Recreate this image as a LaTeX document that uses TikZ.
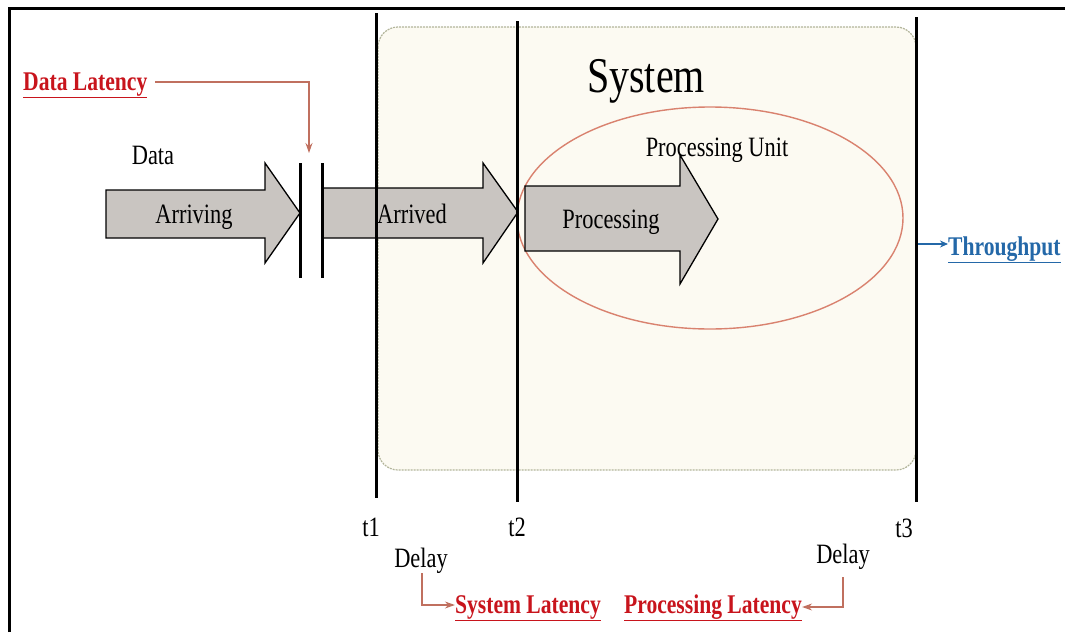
\documentclass[tikz,border=0pt]{standalone}
\usepackage{fontspec}
\setmainfont{Liberation Serif}[FakeStretch=0.8]
\usetikzlibrary{arrows.meta}
\definecolor{boxfill}{HTML}{FCFAF2}
\definecolor{boxline}{HTML}{B2B49A}
\definecolor{arrowfill}{HTML}{C9C5C1}
\definecolor{ellline}{HTML}{D9826F}
\definecolor{latred}{HTML}{C8141C}
\definecolor{conred}{HTML}{C0705F}
\definecolor{tpblue}{HTML}{2468A8}
\tikzset{
  txt/.style={inner sep=0pt, anchor=base, font=\fontsize{28}{31}\selectfont},
  lat/.style={inner sep=0pt, anchor=base, text=latred, font=\fontsize{27}{30}\selectfont\bfseries},
  timeline/.style={line width=3pt, black},
  bigarrow/.style={fill=arrowfill, draw=black, line width=1.3pt, line join=miter},
  con/.style={draw=conred, line width=1.1pt, -{Stealth[length=10pt,width=7pt]}},
}
\begin{document}
\begin{tikzpicture}[x=1pt,y=-1pt]
\useasboundingbox (0,0) rectangle (1065,632);
% frame
\draw[line width=3pt] (9,632) -- (9,8) -- (1065,8);
% system box
\draw[fill=boxfill, draw=boxline, line width=1.2pt, dash pattern=on 2pt off 1pt, rounded corners=20pt] (378,27) rectangle (916,470);
\node[txt, font=\fontsize{50}{56}\selectfont] (sys) at (646,92) {System};
% processing unit ellipse
\draw[ellline, line width=1.4pt] (710,218) ellipse [x radius=193, y radius=111];
\node[txt] (pu) at (717,156) {Processing Unit};
% arrows
\draw[bigarrow] (106,190) -- (265,190) -- (265,163) -- (300,213) -- (265,263) -- (265,238) -- (106,238) -- cycle;
\draw[bigarrow] (322,188) -- (483,188) -- (483,163) -- (518,212) -- (483,263) -- (483,238) -- (322,238) -- cycle;
\draw[bigarrow] (525,186) -- (680,186) -- (680,155) -- (718,219) -- (680,284) -- (680,251) -- (525,251) -- cycle;
\node[txt] (data) at (153,164) {Data};
\node[txt] (arriving) at (194,223) {Arriving};
\node[txt] (arrived) at (412,223) {Arrived};
\node[txt] (processing) at (611,228) {Processing};
% gap lines
\draw[timeline] (300,163) -- (300,278);
\draw[timeline] (322,163) -- (322,278);
% time lines
\draw[timeline] (376,13) -- (376,498);
\draw[timeline] (517,21) -- (517,502);
\draw[timeline] (916,17) -- (916,502);
\node[txt] (t1) at (371,536) {t1};
\node[txt] (t2) at (517,536) {t2};
\node[txt] (t3) at (904,537) {t3};
% data latency
\node[lat, anchor=base west] (dl) at (23,90) {\underline{Data Latency}};
\coordinate (gap) at (309,153);
\draw[con] (155,82) -| (gap);
% throughput
\node[lat, anchor=base west, text=tpblue] (tp) at (948,255) {\underline{Throughput}};
\draw[draw=tpblue, line width=1.1pt, -{Stealth[length=8pt,width=7pt]}] (918,244) -- (tp.west |- 0,244);
% delays
\node[txt] (d1) at (421,567) {Delay};
\node[txt] (d2) at (843,563) {Delay};
\node[lat] (sl) at (528,613) {\underline{System Latency}};
\node[lat] (pl) at (713,613) {\underline{Processing Latency}};
\draw[con] (422,573) |- (sl.west |- 0,605);
\draw[con] (843,577) |- (pl.east |- 0,607);
\end{tikzpicture}
\end{document}
